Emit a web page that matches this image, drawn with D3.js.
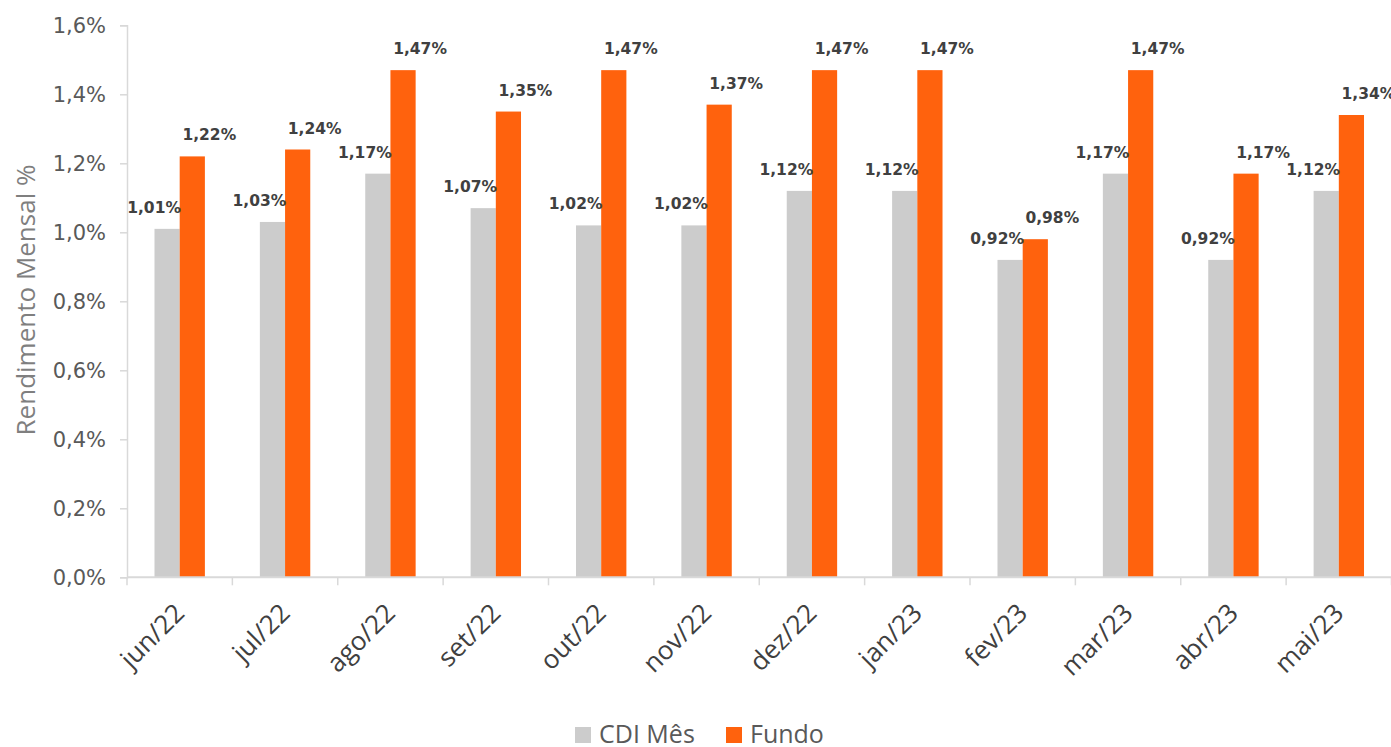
<!DOCTYPE html>
<html>
<head>
<meta charset="utf-8">
<script src="https://cdn.jsdelivr.net/npm/d3@7"></script>
<style>
  body { margin: 0; background: #fff; }
  svg { display: block; }
</style>
</head>
<body>
<div id="chart"></div>
<script>
// data
var months = ["jun/22", "jul/22", "ago/22", "set/22", "out/22", "nov/22",
              "dez/22", "jan/23", "fev/23", "mar/23", "abr/23", "mai/23"];
var cdi   = [1.01, 1.03, 1.17, 1.07, 1.02, 1.02, 1.12, 1.12, 0.92, 1.17, 0.92, 1.12];
var fundo = [1.22, 1.24, 1.47, 1.35, 1.47, 1.37, 1.47, 1.47, 0.98, 1.47, 1.17, 1.34];
var seriesNames = ["CDI Mês", "Fundo"];
var colors = ["#cccccc", "#ff620d"];
var yTicks = [0, 0.2, 0.4, 0.6, 0.8, 1.0, 1.2, 1.4, 1.6];

var width = 1391, height = 747;
var plotL = 127, plotR = 1391.5, plotT = 25.3, plotB = 577.3;

var svg = d3.select("#chart").append("svg")
    .attr("width", width)
    .attr("height", height);

var x = d3.scaleBand().domain(months).range([plotL, plotR]).padding(0);
var barW = 25.2;
var xs = d3.scaleBand().domain(seriesNames)
    .range([(x.bandwidth() - 2 * barW) / 2, (x.bandwidth() + 2 * barW) / 2]);
var y = d3.scaleLinear().domain([0, 1.6]).range([plotB, plotT]);

function fmt(v) { return d3.format(".1f")(v).replace(".", ",") + "%"; }
function fmt2(v) { return d3.format(".2f")(v).replace(".", ",") + "%"; }

// y axis
var yAxis = svg.append("g")
    .attr("transform", "translate(" + plotL + ",0)")
    .call(d3.axisLeft(y).tickValues(yTicks).tickFormat(fmt).tickSize(7).tickPadding(14));
yAxis.select(".domain").attr("stroke", "#d9d9d9").attr("stroke-width", 1.5);
yAxis.selectAll(".tick line").attr("stroke", "#d9d9d9").attr("stroke-width", 1.5);
yAxis.selectAll(".tick text")
    .attr("fill", "#595959")
    .style("font-family", "'DejaVu Sans', Verdana, sans-serif")
    .style("font-size", "21px");

// y title
svg.append("text")
    .attr("transform", "translate(35,300) rotate(-90)")
    .attr("text-anchor", "middle")
    .attr("fill", "#7f7f7f")
    .style("font-family", "'Open Sans', sans-serif")
    .style("font-size", "26px")
    .text("Rendimento Mensal %");

// bars
var rows = months.map(function(m, i) { return { month: m, vals: [cdi[i], fundo[i]] }; });

var groups = svg.selectAll(".grp")
    .data(rows)
    .enter().append("g")
    .attr("class", "grp")
    .attr("transform", function(d) { return "translate(" + x(d.month) + ",0)"; });

groups.selectAll("rect")
    .data(function(d) { return d.vals.map(function(v, j) { return { s: seriesNames[j], v: v, j: j }; }); })
    .enter().append("rect")
    .attr("x", function(d) { return xs(d.s); })
    .attr("width", xs.bandwidth())
    .attr("y", function(d) { return y(d.v); })
    .attr("height", function(d) { return plotB - y(d.v); })
    .attr("fill", function(d) { return colors[d.j]; });

groups.selectAll(".lbl")
    .data(function(d) { return d.vals.map(function(v, j) { return { s: seriesNames[j], v: v, j: j }; }); })
    .enter().append("text")
    .attr("class", "lbl")
    .attr("x", function(d) { return xs(d.s) + xs.bandwidth() / 2 + (d.j == 0 ? -13 : 17); })
    .attr("y", function(d) { return y(d.v) - 16; })
    .attr("text-anchor", "middle")
    .attr("fill", "#404040")
    .style("font-family", "'DejaVu Sans', Verdana, sans-serif")
    .style("font-weight", "bold")
    .style("font-size", "15.5px")
    .text(function(d) { return fmt2(d.v); });

// x axis
var xAxis = svg.append("g")
    .attr("transform", "translate(0," + plotB + ")")
    .call(d3.axisBottom(x).tickSize(0).tickPadding(0));
xAxis.select(".domain").remove();
svg.append("line")
    .attr("x1", plotL).attr("x2", plotR)
    .attr("y1", plotB).attr("y2", plotB)
    .attr("stroke", "#d9d9d9").attr("stroke-width", 2);
svg.selectAll(".xtick")
    .data(months.concat(["end"]))
    .enter().append("line")
    .attr("class", "xtick")
    .attr("x1", function(d, i) { return plotL + i * x.step(); })
    .attr("x2", function(d, i) { return plotL + i * x.step(); })
    .attr("y1", plotB).attr("y2", plotB + 8)
    .attr("stroke", "#d9d9d9").attr("stroke-width", 1.5);

xAxis.selectAll(".tick text")
    .attr("text-anchor", "end")
    .attr("transform", "translate(0,31) rotate(-45)")
    .attr("x", 0).attr("y", 0).attr("dy", "0.35em")
    .attr("fill", "#404040")
    .style("font-family", "'Open Sans', sans-serif")
    .style("font-size", "26px");

// legend
var legend = svg.append("g").attr("transform", "translate(575,0)");
var legX = [0, 151];
seriesNames.forEach(function(s, i) {
    legend.append("rect")
        .attr("x", legX[i]).attr("y", 727)
        .attr("width", 16).attr("height", 16)
        .attr("fill", colors[i]);
    legend.append("text")
        .attr("x", legX[i] + 24).attr("y", 743)
        .attr("fill", "#595959")
        .style("font-family", "'Open Sans', sans-serif")
        .style("font-size", "25px")
        .text(s);
});
</script>
</body>
</html>
